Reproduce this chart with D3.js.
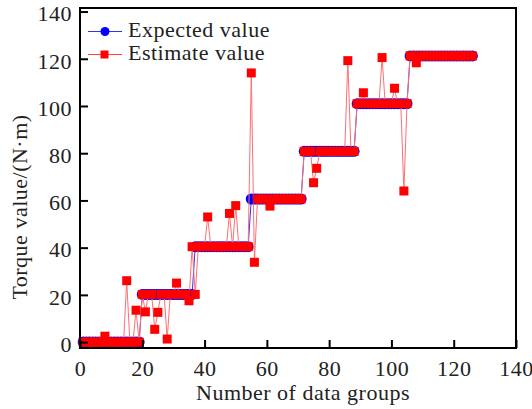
<!DOCTYPE html>
<meta charset="utf-8">
<head>
<script src="https://cdn.jsdelivr.net/npm/d3@7"></script>
<style>
  body { margin: 0; background: #fff; }
  text { font-family: "Liberation Serif", "DejaVu Serif", serif; fill: #222; }
</style>
</head>
<body>
<div id="chart"></div>
<script>
// group numbers 1..126
var groups = d3.range(1, 127);

// expected torque per group
var expected = [
  0,0,0,0,0,0,0,0,0,0,0,0,0,0,0,0,0,0,0,
  20.2,20.2,20.2,20.2,20.2,20.2,20.2,20.2,20.2,20.2,20.2,20.2,20.2,20.2,20.2,20.2,20.2,
  40.4,40.4,40.4,40.4,40.4,40.4,40.4,40.4,40.4,40.4,40.4,40.4,40.4,40.4,40.4,40.4,40.4,40.4,
  60.6,60.6,60.6,60.6,60.6,60.6,60.6,60.6,60.6,60.6,60.6,60.6,60.6,60.6,60.6,60.6,60.6,
  80.8,80.8,80.8,80.8,80.8,80.8,80.8,80.8,80.8,80.8,80.8,80.8,80.8,80.8,80.8,80.8,80.8,
  101,101,101,101,101,101,101,101,101,101,101,101,101,101,101,101,101,
  121.2,121.2,121.2,121.2,121.2,121.2,121.2,121.2,121.2,121.2,121.2,121.2,121.2,121.2,121.2,121.2,121.2,121.2,121.2,121.2,121.2
];

// estimated torque per group
var estimate = [
  0,0,0,0,0,0,0,2.5,0,0,0,0,0,0,26,0,0,13.5,0,
  20.2,12.8,20.2,20.2,5.4,12.6,20.2,20.2,1.3,20.2,20.2,25,20.2,20.2,20.2,17.5,40.4,20.2,
  40.4,40.4,40.4,53,40.4,40.4,40.4,40.4,40.4,40.4,54.5,40.4,57.8,40.4,40.4,40.4,40.4,
  114,33.8,60.6,60.6,60.6,60.6,57.6,60.6,60.6,60.6,60.6,60.6,60.6,60.6,60.6,60.6,60.6,
  80.8,80.8,80.8,67.5,73.6,80.8,80.8,80.8,80.8,80.8,80.8,80.8,80.8,80.8,119.2,80.8,80.8,
  101,101,105.6,101,101,101,101,101,120.5,101,101,101,107.5,101,101,64,101,
  121.2,121.2,118.3,121.2,121.2,121.2,121.2,121.2,121.2,121.2,121.2,121.2,121.2,121.2,121.2,121.2,121.2,121.2,121.2,121.2,121.2
];

var xTicks = [0, 20, 40, 60, 80, 100, 120, 140];
var yTicks = [0, 20, 40, 60, 80, 100, 120, 140];

var W = 532, H = 409;
var plotL = 80, plotR = 516, plotT = 8, plotB = 348;

var svg = d3.select("#chart").append("svg")
    .attr("width", W)
    .attr("height", H);

var x = d3.scaleLinear().domain([0, 140]).range([plotL, plotR]);
var y = d3.scaleLinear().domain([-2.5, 141.5]).range([plotB, plotT]);

var line = d3.line()
    .x(function(d) { return x(d[0]); })
    .y(function(d) { return y(d[1]); });

var expPts = groups.map(function(g, i) { return [g, expected[i]]; });
var estPts = groups.map(function(g, i) { return [g, estimate[i]]; });

// expected series (blue)
svg.append("path")
    .attr("d", line(expPts))
    .attr("fill", "none")
    .attr("stroke", "#3030ff")
    .attr("stroke-width", 1);

svg.append("g").selectAll("circle")
    .data(expPts)
    .enter().append("circle")
    .attr("cx", function(d) { return x(d[0]); })
    .attr("cy", function(d) { return y(d[1]); })
    .attr("r", 5.5)
    .attr("fill", "#0000ff");

// estimate series (red)
svg.append("path")
    .attr("d", line(estPts))
    .attr("fill", "none")
    .attr("stroke", "#ff7070")
    .attr("stroke-width", 1);

var sq = 9;
svg.append("g").selectAll("rect")
    .data(estPts)
    .enter().append("rect")
    .attr("x", function(d) { return x(d[0]) - sq / 2; })
    .attr("y", function(d) { return y(d[1]) - sq / 2; })
    .attr("width", sq)
    .attr("height", sq)
    .attr("fill", "#ff0000");

// frame
svg.append("rect")
    .attr("x", plotL).attr("y", plotT)
    .attr("width", plotR - plotL).attr("height", plotB - plotT)
    .attr("fill", "none")
    .attr("stroke", "#000")
    .attr("stroke-width", 2);

// axes with inward ticks
var xAxis = svg.append("g")
    .attr("transform", "translate(0," + plotB + ")")
    .call(d3.axisBottom(x).tickValues(xTicks).tickSizeInner(-8).tickSizeOuter(0).tickPadding(12));
var yAxis = svg.append("g")
    .attr("transform", "translate(" + plotL + ",0)")
    .call(d3.axisLeft(y).tickValues(yTicks).tickSizeInner(-8).tickSizeOuter(0).tickPadding(8));

[xAxis, yAxis].forEach(function(a) {
  a.select(".domain").remove();
  a.selectAll(".tick line").attr("stroke", "#000").attr("stroke-width", 2);
  a.selectAll(".tick text")
    .style("font-family", "'Liberation Serif', serif")
    .style("font-size", "22px")
    .style("letter-spacing", "0.5px")
    .attr("fill", "#222");
});
yAxis.selectAll(".tick text").attr("dy", "0.42em");

// axis titles
svg.append("text")
    .attr("x", 303)
    .attr("y", 400)
    .attr("text-anchor", "middle")
    .style("font-size", "22px")
    .style("letter-spacing", "0.5px")
    .text("Number of data groups");

svg.append("text")
    .attr("transform", "translate(27,207) rotate(-90)")
    .attr("text-anchor", "middle")
    .style("font-size", "22px")
    .style("letter-spacing", "0.5px")
    .text("Torque value/(N·m)");

// legend
var legend = svg.append("g");
legend.append("line")
    .attr("x1", 88).attr("x2", 122).attr("y1", 31.5).attr("y2", 31.5)
    .attr("stroke", "#3030ff").attr("stroke-width", 1.2);
legend.append("circle")
    .attr("cx", 105).attr("cy", 31.5).attr("r", 4.5).attr("fill", "#0000ff");
legend.append("text")
    .attr("x", 128).attr("y", 37)
    .style("font-size", "22px")
    .style("letter-spacing", "0.5px")
    .text("Expected value");

legend.append("line")
    .attr("x1", 88).attr("x2", 122).attr("y1", 54.5).attr("y2", 54.5)
    .attr("stroke", "#ff4040").attr("stroke-width", 1.2);
legend.append("rect")
    .attr("x", 100.5).attr("y", 50.5).attr("width", 8).attr("height", 8).attr("fill", "#ff0000");
legend.append("text")
    .attr("x", 128).attr("y", 60)
    .style("font-size", "22px")
    .style("letter-spacing", "0.5px")
    .text("Estimate value");
</script>
</body>
</html>
